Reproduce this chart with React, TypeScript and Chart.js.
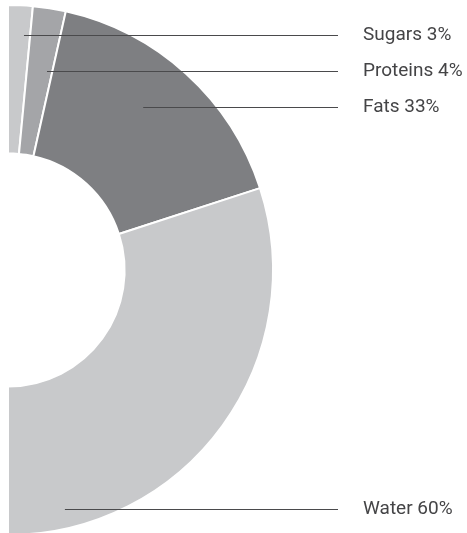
import React, { useEffect, useRef } from "react";
import { Chart, registerables } from "chart.js";

Chart.register(...registerables);

const categories = ["Sugars", "Proteins", "Fats", "Water"];
const values = [3, 4, 33, 60];
const colors = ["#c8c9cb", "#a4a5a8", "#7e7f82", "#c8c9cb"];
// leader-line anchor inside each slice: fraction along the slice angle, fraction of outer radius
const anchorAngleFrac = [0.72, 0.79, 0.455, 0.876];
const anchorRadiusFrac = [0.889, 0.765, 0.8, 0.927];

const leaderPlugin = {
  id: "leaders",
  afterDatasetsDraw(chart: any) {
    const meta = chart.getDatasetMeta(0);
    const ctx = chart.ctx;
    const right = chart.chartArea.right;
    const lineEnd = right + 64;
    const textX = right + 89;
    ctx.save();
    meta.data.forEach((arc: any, i: number) => {
      const p = arc.getProps(["x", "y", "startAngle", "endAngle", "outerRadius"], true);
      const a = p.startAngle + anchorAngleFrac[i] * (p.endAngle - p.startAngle);
      const r = anchorRadiusFrac[i] * p.outerRadius;
      const px = p.x + Math.cos(a) * r;
      const py = Math.round(p.y + Math.sin(a) * r) + 0.5;
      ctx.strokeStyle = "#4a4a4c";
      ctx.lineWidth = 1;
      ctx.beginPath();
      ctx.moveTo(px, py);
      ctx.lineTo(lineEnd, py);
      ctx.stroke();
      ctx.fillStyle = "#444446";
      ctx.font = "19px Roboto, 'Noto Sans', sans-serif";
      ctx.textBaseline = "middle";
      ctx.textAlign = "left";
      ctx.fillText(`${categories[i]} ${values[i]}%`, textX, py);
    });
    ctx.restore();
  },
};

export default function App() {
  const ref = useRef<HTMLCanvasElement>(null);
  useEffect(() => {
    document.body.style.margin = "4px 0 0 7px";
    if (!ref.current) return;
    const chart = new Chart(ref.current, {
      type: "doughnut",
      data: {
        labels: categories,
        datasets: [
          {
            data: values,
            backgroundColor: colors,
            borderColor: "#ffffff",
            borderWidth: 2,
          },
        ],
      },
      options: {
        responsive: false,
        animation: false,
        rotation: 0,
        circumference: 180,
        cutout: "44%",
        layout: { padding: { left: 0, top: 0, bottom: 0, right: 193 } },
        plugins: {
          legend: { display: false },
          tooltip: { enabled: false },
        },
      },
      plugins: [leaderPlugin],
    });
    return () => chart.destroy();
  }, []);
  return (
    <div style={{ width: 460, height: 529, overflow: "hidden" }}>
      <canvas ref={ref} width={460} height={532} style={{ display: "block" }} />
    </div>
  );
}
